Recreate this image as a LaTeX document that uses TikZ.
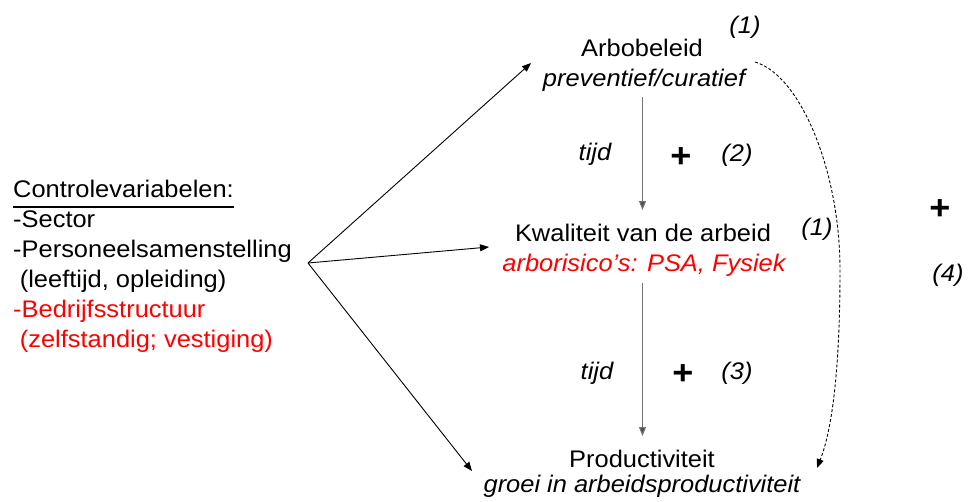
\documentclass[tikz,border=0pt]{standalone}
\usepackage{fontspec}
\setmainfont{Liberation Sans}[FakeStretch=1.06]
\usetikzlibrary{arrows.meta}
\definecolor{txtred}{RGB}{255,0,0}
\definecolor{vgray}{RGB}{115,115,115}
\begin{document}
\begin{tikzpicture}[x=1pt,y=-1pt,
  lbl/.style={inner sep=0pt, font=\fontsize{24}{30}\selectfont},
  ital/.style={inner sep=0pt, font=\fontsize{24}{30}\selectfont\itshape},
  plusmark/.style={inner sep=0pt, font=\fontsize{34}{34}\selectfont\bfseries},
  arr/.style={line width=0.9pt, -{Triangle[length=9pt,width=7pt]}},
  varr/.style={line width=1pt, draw=vgray, -{Triangle[length=9pt,width=7pt,fill=vgray!70!black]}},
  dashcurve/.style={line width=0.9pt, dash pattern=on 3pt off 2pt, -{Triangle[length=9pt,width=7pt]}}]
\useasboundingbox (0,0) rectangle (971,501);

% right column
\node[lbl,anchor=base] (arbo) at (642,56) {Arbobeleid};
\node[ital,anchor=base] (arbosub) at (644,86) {preventief/curatief};
\node[lbl,anchor=base] (kwal) at (643,241.7) {Kwaliteit van de arbeid};
\node[ital,anchor=base,text=txtred] (kwalsub) at (644,271.7) {arborisico’s: PSA, Fysiek};
\node[lbl,anchor=base] (prod) at (642,467) {Productiviteit};
\node[ital,anchor=base] (prodsub) at (642,492) {groei in arbeidsproductiviteit};

% labels
\node[ital,anchor=base] (n1a) at (745,33) {(1)};
\node[ital,anchor=base] (tijd1) at (595,160) {tijd};
\node[plusmark] (plus1) at (681,157.5) {+};
\node[ital,anchor=base] (n2) at (737,161.5) {(2)};
\node[ital,anchor=base] (n1b) at (817,235) {(1)};
\node[ital,anchor=base] (tijd2) at (597,379) {tijd};
\node[plusmark] (plus2) at (683,374.5) {+};
\node[ital,anchor=base] (n3) at (737,379) {(3)};
\node[plusmark] (plus4) at (940,209.5) {+};
\node[ital,anchor=base] (n4) at (948,281.7) {(4)};

% left block
\node[lbl,anchor=base west] (c1) at (13,197) {Controlevariabelen:};
\node[lbl,anchor=base west] (c2) at (13,227) {-Sector};
\node[lbl,anchor=base west] (c3) at (13,257) {-Personeelsamenstelling};
\node[lbl,anchor=base west] (c4) at (13,287) {\hspace*{0.278em}(leeftijd, opleiding)};
\node[lbl,anchor=base west,text=txtred] (c5) at (13,317) {-Bedrijfsstructuur};
\node[lbl,anchor=base west,text=txtred] (c6) at (13,347) {\hspace*{0.278em}(zelfstandig; vestiging)};
\draw[line width=1.3pt] ([yshift=-10pt]c1.base west) -- ([yshift=-10pt]c1.base east);

% connectors
\coordinate (src) at (308,263);
\coordinate (t1) at (531,63);
\coordinate (t2) at (489,247);
\coordinate (t3) at (472,471);
\draw[arr] (src) -- (t1);
\draw[arr] (src) -- (t2);
\draw[arr] (src) -- (t3);

\coordinate (v1a) at (642.5,97);
\coordinate (v1b) at (642.5,210);
\coordinate (v2a) at (642.5,283);
\coordinate (v2b) at (642.5,436);
\draw[varr] (v1a) -- (v1b);
\draw[varr] (v2a) -- (v2b);

\coordinate (d0) at (755,62);
\coordinate (d1) at (817,468);
\draw[dashcurve] (d0) .. controls (800,75) and (840,170) .. (840,270)
                      .. controls (840,370) and (832,430) .. (d1);
\end{tikzpicture}
\end{document}
